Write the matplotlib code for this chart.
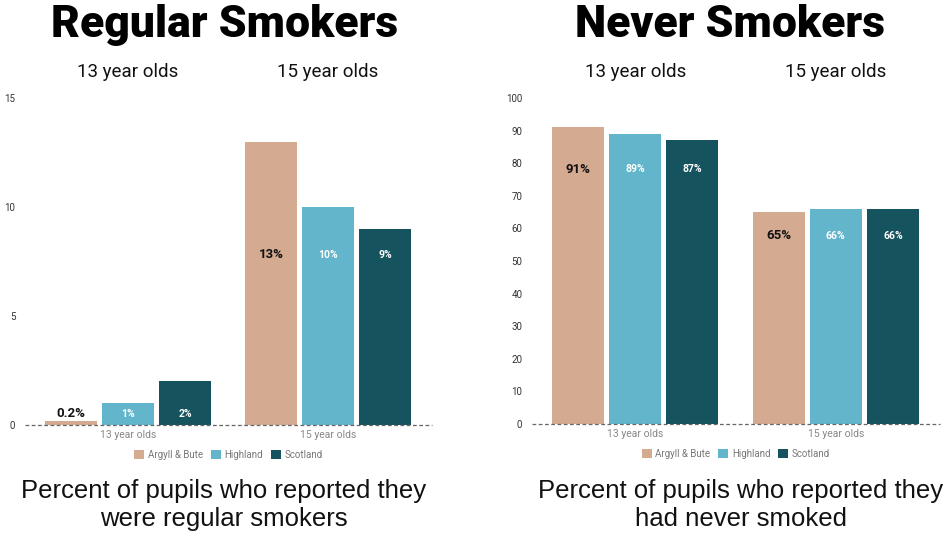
import matplotlib
matplotlib.use("Agg")
import matplotlib.pyplot as plt
from matplotlib.patches import Patch
import numpy as np

plt.rcParams['font.family'] = ['Roboto', 'DejaVu Sans']

age_groups = ["13 year olds", "15 year olds"]
areas = ["Argyll & Bute", "Highland", "Scotland"]
colors = ["#D4AA90", "#63B5CC", "#15535E"]
label_colors = ["#111111", "white", "white"]

regular_values = {
    "Argyll & Bute": [0.2, 13],
    "Highland": [1, 10],
    "Scotland": [2, 9],
}
regular_labels = {
    "Argyll & Bute": ["0.2%", "13%"],
    "Highland": ["1%", "10%"],
    "Scotland": ["2%", "9%"],
}
never_values = {
    "Argyll & Bute": [91, 65],
    "Highland": [89, 66],
    "Scotland": [87, 66],
}
never_labels = {
    "Argyll & Bute": ["91%", "65%"],
    "Highland": ["89%", "66%"],
    "Scotland": ["87%", "66%"],
}

fig = plt.figure(figsize=(9.45, 5.34), dpi=100)

def panel(rect, values, labels, ymax, ystep, label_y, title, caption, title_x,
          caption_x):
    ax = fig.add_axes(rect)
    x = np.arange(len(age_groups))
    width = 0.26
    step = 0.285
    for i, a in enumerate(areas):
        xs = x + (i - 1) * step
        ax.bar(xs, values[a], width=width, color=colors[i], zorder=2)
        for j, xv in enumerate(xs):
            ly = label_y[j]
            if a == "Argyll & Bute":
                fs, col = 9.5, "#111111"
            else:
                fs, col = 7.5, label_colors[i]
            if ly is None:
                if a == "Argyll & Bute":
                    ax.text(xv, values[a][j] + 0.05, labels[a][j], ha="center",
                            va="bottom", fontsize=fs, fontweight="bold",
                            color="#111111")
                else:
                    ax.text(xv, 0.5, labels[a][j], ha="center", va="center",
                            fontsize=fs, fontweight="bold", color=col)
            else:
                ax.text(xv, ly, labels[a][j], ha="center", va="center",
                        fontsize=fs, fontweight="bold", color=col)
    ax.set_xlim(-0.515, 1.52)
    ax.set_ylim(0, ymax)
    ticks = np.arange(0, ymax + 0.1, ystep)
    ax.set_yticks(ticks)
    ax.set_yticklabels([f"{int(v)}" for v in ticks], fontsize=7, color="#333333")
    ax.tick_params(axis="y", length=0, pad=7)
    ax.set_xticks(x)
    ax.set_xticklabels(age_groups, fontsize=7.5, color="#888888")
    ax.tick_params(axis="x", length=0, pad=3.5)
    for s in ax.spines.values():
        s.set_visible(False)
    ax.axhline(0, color="#666666", linestyle=(0, (3, 2)), linewidth=0.9, zorder=3,
               clip_on=False)
    handles = [Patch(facecolor=c, edgecolor="none") for c in colors]
    ax.legend(handles, areas, loc="upper center", bbox_to_anchor=(0.5, -0.05),
              ncol=3, frameon=False, fontsize=7, labelcolor="#777777",
              handlelength=1.0, handleheight=1.0, handletextpad=0.4,
              columnspacing=0.8)
    fig.text(title_x / 945, 1 - 25 / 534, title, ha="center", va="center",
             fontsize=32, fontweight="heavy", color="black")
    centers = ax.transData.transform([(0, 0), (1, 0)])
    for k, g in enumerate(age_groups):
        fx = centers[k][0] / fig.dpi / 9.45
        fig.text(fx, 1 - 72 / 534, g, ha="center", va="center", fontsize=13.5,
                 color="#111111")
    fig.text(caption_x / 945, 1 - 505 / 534, caption, ha="center", va="center",
             fontsize=18.5, color="#111111", linespacing=1.25,
             family=["Liberation Sans", "DejaVu Sans"])
    return ax

panel([25 / 945, 109 / 534, 407 / 945, 327 / 534], regular_values, regular_labels,
      15, 5, [None, 7.8], "Regular Smokers",
      "Percent of pupils who reported they\nwere regular smokers", 225, 224)
panel([532 / 945, 110 / 534, 408 / 945, 326 / 534], never_values, never_labels,
      100, 10, [78.2, 57.7], "Never Smokers",
      "Percent of pupils who reported they\nhad never smoked", 730, 741)

fig.savefig("out.png", dpi=100)
